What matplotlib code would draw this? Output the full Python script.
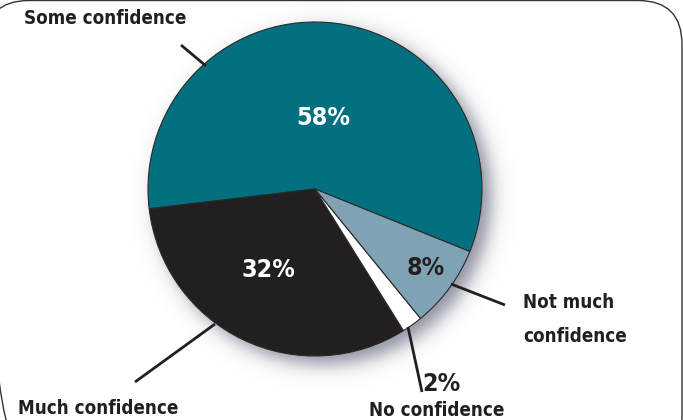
import numpy as np
import matplotlib.pyplot as plt
from matplotlib.patches import FancyBboxPatch

# Dados: confiança
categorias = ['Some confidence', 'Much confidence', 'No confidence', 'Not much confidence']
valores = [58, 32, 2, 8]
rotulos_pct = ['58%', '32%', '2%', '8%']
cores = ['#03707f', '#231f20', '#ffffff', '#7fa3b5']

W, H = 683, 420
fonte = ['DejaVu Sans']

fig = plt.figure(figsize=(W / 100, H / 100), dpi=100)
ax = fig.add_axes([0, 0, 1, 1])

cx, cy, r = 315, H - 189, 167

# Sombra suave atrás da pizza
xs = np.arange(W) + 0.5
ys = np.arange(H) + 0.5
X, Y = np.meshgrid(xs, ys)
d = np.hypot(X - (cx + 9), Y - (cy - 8))
alpha = 0.75 * 0.5 * (1 - np.tanh((d - r) / 11))
sombra = np.zeros((H, W, 4))
sombra[..., 0] = 0.40
sombra[..., 1] = 0.42
sombra[..., 2] = 0.50
sombra[..., 3] = alpha
ax.imshow(sombra, extent=(0, W, 0, H), origin='lower', zorder=0, interpolation='bilinear')

ax.pie(valores, colors=cores, center=(cx, cy), radius=r, startangle=-22,
       counterclock=True,
       wedgeprops=dict(edgecolor='#2a2a2a', linewidth=0.8, zorder=2))

# Percentuais dentro das fatias
estilo = dict(family=fonte, fontweight='bold', fontstretch='condensed', fontsize=18,
              ha='center', va='center', zorder=5)
ax.text(323, H - 118, rotulos_pct[0], color='white', **estilo)
ax.text(268, H - 270, rotulos_pct[1], color='white', **estilo)
ax.text(426, H - 268, rotulos_pct[3], color='#231f20', **estilo)
ax.text(441, H - 384, rotulos_pct[2], color='#231f20', **estilo)

# Rótulos das categorias e linhas de chamada
rot = dict(family=fonte, fontweight='bold', fontstretch='condensed', fontsize=13.5,
           color='#231f20', zorder=5)
ax.text(105, H - 18, categorias[0], ha='center', va='center', **rot)
ax.text(98, H - 408, categorias[1], ha='center', va='center', **rot)
ax.text(437, H - 410, categorias[2], ha='center', va='center', **rot)
ax.text(523, H - 302, 'Not much', ha='left', va='center', **rot)
ax.text(523, H - 336, 'confidence', ha='left', va='center', **rot)

linhas = [((181, 45), (206, 66)),
          ((215, 324), (135, 382)),
          ((408, 327), (422, 392)),
          ((451, 284), (505, 305))]
for (x0, y0), (x1, y1) in linhas:
    ax.plot([x0, x1], [H - y0, H - y1], color='#231f20', linewidth=2, zorder=4,
            solid_capstyle='butt')

# Moldura arredondada
moldura = FancyBboxPatch((-15, -40), 697, H - 0.5 + 40,
                         boxstyle='round,pad=0,rounding_size=44',
                         facecolor='none', edgecolor='#333333', linewidth=1, zorder=6)
ax.add_patch(moldura)

ax.set_xlim(0, W)
ax.set_ylim(0, H)
ax.set_aspect('auto')
ax.axis('off')

fig.savefig('out.png', dpi=100, facecolor='white')
